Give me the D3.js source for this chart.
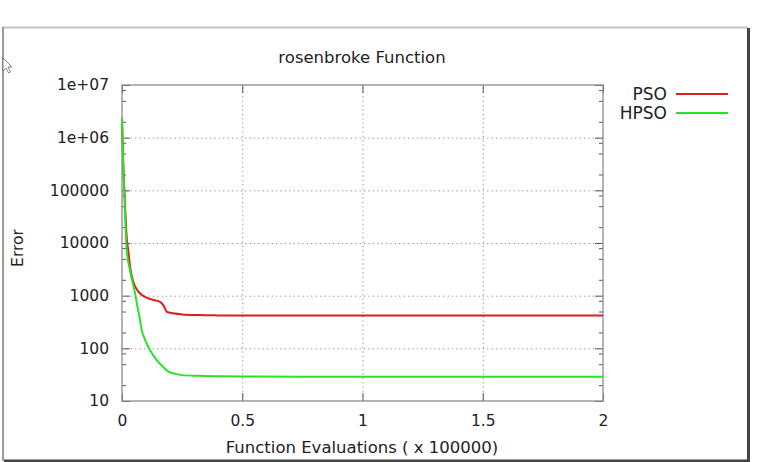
<!DOCTYPE html>
<html>
<head>
<meta charset="utf-8">
<script src="https://cdn.jsdelivr.net/npm/d3@7"></script>
<style>
  body { margin: 0; background: #fff; }
  svg text { font-family: "DejaVu Sans", sans-serif; fill: #222; }
</style>
</head>
<body>
<div class="chart"></div>
<script>
// data
var psoX = [0, 0.004, 0.01, 0.02, 0.026, 0.035, 0.047, 0.068, 0.09, 0.109, 0.135, 0.158, 0.172, 0.186, 0.213, 0.25, 0.316, 0.4, 0.503, 0.75, 1, 1.5, 2];
var psoY = [2.3e6, 5e5, 1e5, 1.2e4, 7300, 3200, 1840, 1190, 980, 890, 820, 766, 663, 495, 462, 440, 428, 422, 419, 418, 418, 418, 418];
var hpsoX = [0, 0.004, 0.01, 0.0195, 0.033, 0.054, 0.065, 0.075, 0.082, 0.095, 0.109, 0.125, 0.144, 0.17, 0.193, 0.22, 0.248, 0.317, 0.4, 0.504, 0.75, 1, 1.5, 2];
var hpsoY = [2.3e6, 4e5, 8e4, 7300, 3060, 1120, 600, 344, 222, 150, 107, 80, 60, 45, 36, 33, 31, 30, 29.5, 29.2, 29, 29, 29, 29];

var xTicks = [0, 0.5, 1, 1.5, 2];
var xTickLabels = ["0", "0.5", "1", "1.5", "2"];
var yTicks = [10, 100, 1000, 10000, 100000, 1e6, 1e7];
var yTickLabels = ["10", "100", "1000", "10000", "100000", "1e+06", "1e+07"];
var seriesNames = ["PSO", "HPSO"];

var margin = { top: 85, right: 155, bottom: 61, left: 122 };
var fullWidth = 758, fullHeight = 462;
var width = fullWidth - margin.left - margin.right;
var height = fullHeight - margin.top - margin.bottom;

var root = d3.select(".chart").append("svg")
  .attr("width", fullWidth)
  .attr("height", fullHeight);

// window frame of the screenshot
root.append("line").attr("x1", 2).attr("x2", 748).attr("y1", 27.5).attr("y2", 27.5)
  .attr("stroke", "#c4c4c4").attr("stroke-width", 2);
root.append("line").attr("x1", 3).attr("x2", 3).attr("y1", 27).attr("y2", 461)
  .attr("stroke", "#9a9a9a").attr("stroke-width", 2);
root.append("rect").attr("x", 747).attr("y", 28).attr("width", 3).attr("height", 434).attr("fill", "#444");
root.append("rect").attr("x", 4).attr("y", 459.5).attr("width", 746).attr("height", 2.5).attr("fill", "#444");
// mouse pointer
root.append("path")
  .attr("d", "M3,58 L3,71 L6,68 L8.5,73 L10.5,72 L8,67 L12,67 Z")
  .attr("fill", "#fff").attr("stroke", "#666").attr("stroke-width", 0.8);

var svg = root.append("g").attr("transform", `translate(${margin.left}, ${margin.top})`);

var xScale = d3.scaleLinear().domain([0, 2]).range([0, width]);
var yScale = d3.scaleLog().domain([10, 1e7]).range([height, 0]);

var minorY = [];
yTicks.slice(0, -1).forEach(d => [2, 5, 8].forEach(m => minorY.push(d * m)));

// grid
var grid = svg.append("g").attr("class", "grid");
grid.append("g")
  .call(d3.axisLeft(yScale).tickValues(yTicks.slice(1, -1)).tickSize(-width).tickFormat(""));
grid.append("g")
  .attr("transform", `translate(0, ${height})`)
  .call(d3.axisBottom(xScale).tickValues(xTicks.slice(1, -1)).tickSize(-height).tickFormat(""));
grid.selectAll(".domain").remove();
grid.selectAll("line").attr("stroke", "#8a8a8a").attr("stroke-dasharray", "1.2,3.2");

// tick marks (inside, mirrored)
function styleTicks(g) {
  g.select(".domain").remove();
  g.selectAll("line").attr("stroke", "#555").attr("stroke-width", 1);
}
svg.append("g").call(d3.axisLeft(yScale).tickValues(yTicks).tickSize(-8).tickFormat("")).call(styleTicks);
svg.append("g").call(d3.axisLeft(yScale).tickValues(minorY).tickSize(-4).tickFormat("")).call(styleTicks);
svg.append("g").attr("transform", `translate(${width}, 0)`)
  .call(d3.axisRight(yScale).tickValues(yTicks).tickSize(-8).tickFormat("")).call(styleTicks);
svg.append("g").attr("transform", `translate(${width}, 0)`)
  .call(d3.axisRight(yScale).tickValues(minorY).tickSize(-4).tickFormat("")).call(styleTicks);
svg.append("g").attr("transform", `translate(0, ${height})`)
  .call(d3.axisBottom(xScale).tickValues(xTicks).tickSize(-8).tickFormat("")).call(styleTicks);
svg.append("g")
  .call(d3.axisTop(xScale).tickValues(xTicks).tickSize(-8).tickFormat("")).call(styleTicks);

// tick labels
var yAxis = svg.append("g")
  .call(d3.axisLeft(yScale).tickValues(yTicks).tickSize(0).tickPadding(13)
    .tickFormat((d, i) => yTickLabels[i]));
yAxis.select(".domain").remove();
yAxis.selectAll("text").style("font-size", "15.5px").style("font-family", "DejaVu Sans").attr("fill", "#222");

var xAxis = svg.append("g")
  .attr("transform", `translate(0, ${height})`)
  .call(d3.axisBottom(xScale).tickValues(xTicks).tickSize(0).tickPadding(14)
    .tickFormat((d, i) => xTickLabels[i]));
xAxis.select(".domain").remove();
xAxis.selectAll("text").style("font-size", "15.5px").style("font-family", "DejaVu Sans").attr("fill", "#222");

// frame
svg.append("rect")
  .attr("width", width).attr("height", height)
  .attr("fill", "none").attr("stroke", "#8c8c8c").attr("stroke-width", 1.3);

// curves
var line = d3.line()
  .x(d => xScale(d[0]))
  .y(d => yScale(d[1]))
  .curve(d3.curveMonotoneX);

var series = [
  { name: seriesNames[0], color: "#d91f1f", pts: psoX.map((x, i) => [x, psoY[i]]) },
  { name: seriesNames[1], color: "#27e427", pts: hpsoX.map((x, i) => [x, hpsoY[i]]) }
];

svg.selectAll(".curve")
  .data(series)
  .enter()
  .append("path")
  .attr("class", "curve")
  .attr("d", d => line(d.pts))
  .attr("fill", "none")
  .attr("stroke", d => d.color)
  .attr("stroke-width", 2)
  .attr("stroke-linejoin", "round");

// legend
var legend = svg.selectAll(".legend")
  .data(series)
  .enter()
  .append("g")
  .attr("class", "legend")
  .attr("transform", (d, i) => `translate(${width + 64}, ${9 + i * 19})`);
legend.append("text")
  .attr("text-anchor", "end")
  .attr("dy", "0.35em")
  .style("font-size", "17px")
  .text(d => d.name);
legend.append("line")
  .attr("x1", 9).attr("x2", 61)
  .attr("stroke", d => d.color)
  .attr("stroke-width", 2);

// titles
root.append("text")
  .attr("x", 362).attr("y", 63)
  .attr("text-anchor", "middle")
  .style("font-size", "16.5px")
  .text("rosenbroke Function");

root.append("text")
  .attr("x", 362).attr("y", 453)
  .attr("text-anchor", "middle")
  .style("font-size", "16.5px")
  .text("Function Evaluations ( x 100000)");

root.append("text")
  .attr("transform", "translate(23, 248) rotate(-90)")
  .attr("text-anchor", "middle")
  .style("font-size", "15.5px")
  .text("Error");
</script>
</body>
</html>
